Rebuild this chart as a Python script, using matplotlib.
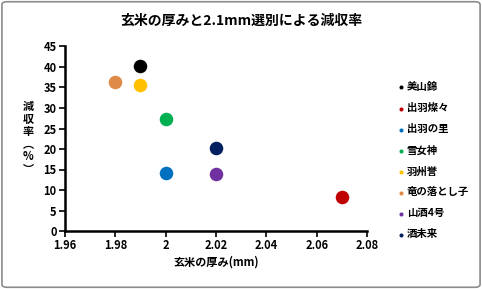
import matplotlib
matplotlib.use("Agg")
import matplotlib.pyplot as plt
from matplotlib.patches import FancyBboxPatch
from matplotlib.ticker import FuncFormatter

plt.rcParams['font.family'] = ['Noto Sans CJK JP', 'DejaVu Sans']

# data
varieties = ['美山錦', '出羽燦々', '出羽の里', '雪女神', '羽州誉', '竜の落とし子', '山酒4号', '酒未来']
thickness = [1.99, 2.07, 2.00, 2.00, 1.99, 1.98, 2.02, 2.02]
loss_rate = [40.3, 8.3, 14.2, 27.4, 35.5, 36.3, 14.0, 20.2]
colors = ['#000000', '#C00000', '#0070C0', '#00B050', '#FFC000', '#E08A48', '#7030A0', '#002060']

fig = plt.figure(figsize=(4.82, 2.89), dpi=100)
ax = fig.add_axes([65 / 482, 1 - 231 / 289, 302 / 482, 184.5 / 289])

for name, x, y, c in zip(varieties, thickness, loss_rate, colors):
    ax.scatter(x, y, s=95, color=c, label=name, zorder=3, linewidths=0)

ax.set_xlim(1.96, 2.08)
ax.set_ylim(0, 45)
ax.set_xticks([1.96, 1.98, 2.0, 2.02, 2.04, 2.06, 2.08])
ax.set_yticks(range(0, 46, 5))
ax.xaxis.set_major_formatter(FuncFormatter(lambda v, p: f"{v:g}"))

for s in ['top', 'right']:
    ax.spines[s].set_visible(False)
for s in ['left', 'bottom']:
    ax.spines[s].set_linewidth(1.8)
ax.tick_params(direction='out', length=4, width=1.2, labelsize=8, pad=2)
for lab in ax.get_xticklabels() + ax.get_yticklabels():
    lab.set_fontweight('bold')

ax.set_xlabel('玄米の厚み(mm)', fontsize=8, fontweight='bold', labelpad=2)
fig.text(28 / 482, 1 - 138 / 289, '減\n収\n率\n︵\n%\n︶', fontsize=8, fontweight='bold',
         ha='center', va='center', linespacing=0.95)

fig.text(0.5, 1 - 21 / 289, '玄米の厚みと2.1mm選別による減収率', ha='center', va='center',
         fontsize=10, fontweight='bold')

leg = ax.legend(loc='upper left', bbox_to_anchor=(392 / 482, 1 - 78 / 289),
                bbox_transform=fig.transFigure, frameon=False, fontsize=7.5,
                markerscale=0.3, handletextpad=0.0, labelspacing=1.05,
                handlelength=1.0, borderaxespad=0)
for t in leg.get_texts():
    t.set_fontweight('bold')

border = FancyBboxPatch((0.004, 0.006), 0.992, 0.988, boxstyle='round,pad=0,rounding_size=0.01',
                        transform=fig.transFigure, fill=False, edgecolor='#8c8c8c', linewidth=1.2)
fig.patches.append(border)

fig.savefig('out.png', dpi=100)
